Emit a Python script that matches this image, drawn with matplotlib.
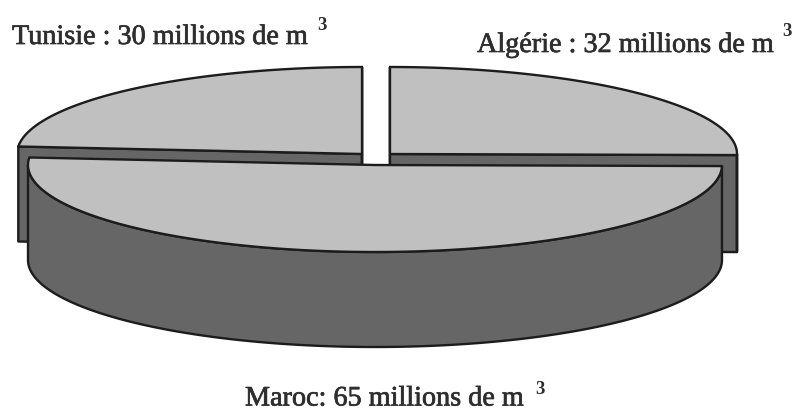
import numpy as np
import matplotlib
matplotlib.use("Agg")
import matplotlib.pyplot as plt
import matplotlib.patheffects as pe

# Annual volumes by country, in millions of cubic metres (clockwise from 12 o'clock)
countries = ["Algérie", "Maroc", "Tunisie"]
volumes = [32, 65, 30]

LIGHT = "#c0c0c0"
DARK = "#666666"
EDGE = "#1c1c1c"
INK = "#2e2e2e"
LW = 1.7
RY = 87
# Ellipse centre, horizontal radius and wall height of each exploded slice
centres = {"Algérie": (390, 154), "Maroc": (375, 165), "Tunisie": (362, 154)}
radii = {"Algérie": 347, "Maroc": 347, "Tunisie": 345}
depths = {"Algérie": 97, "Maroc": 95, "Tunisie": 95}


def arc(cx, cy, rx, a0, a1, n=200):
    t = np.radians(np.linspace(a0, a1, n))
    return cx + rx * np.cos(t), cy - RY * np.sin(t)


def shade(ax, x, y, color, z):
    ax.fill(x, y, facecolor=color, edgecolor=EDGE, linewidth=LW,
            joinstyle="round", zorder=z)


fig = plt.figure(figsize=(7.95, 4.12), dpi=100)
ax = fig.add_axes([0, 0, 1, 1])
ax.set_xlim(0, 795)
ax.set_ylim(412, 0)
ax.axis("off")

# Slice boundaries follow the shares of the total
edges = 90 - 360 * np.cumsum([0] + volumes) / sum(volumes)
layer = {"Algérie": 1, "Tunisie": 1, "Maroc": 5}

for name, a0, a1 in zip(countries, edges[:-1], edges[1:]):
    cx, cy = centres[name]
    rx = radii[name]
    depth = depths[name]
    z = layer[name]
    # Cut faces turned towards the viewer
    for ang in (a0, a1):
        px, py = arc(cx, cy, rx, ang, ang, 1)
        if name != "Maroc":
            shade(ax, [cx, px[0], px[0], cx],
                  [cy, py[0], py[0] + depth, cy + depth], DARK, z)
    # Outer rim, only the front half is visible
    lo, hi = max(a1, -180), min(a0, 0)
    if hi > lo:
        rx_, ry_ = arc(cx, cy, rx, lo, hi)
        shade(ax, np.r_[rx_, rx_[::-1]], np.r_[ry_, ry_[::-1] + depth], DARK, z + 1)
    # Top face
    tx, ty = arc(cx, cy, rx, a0, a1)
    shade(ax, np.r_[cx, tx], np.r_[cy, ty], LIGHT, z + 2)

# Country labels with a detached cubic-metre exponent
serif = "Liberation Serif"
heavier = [pe.withStroke(linewidth=0.5, foreground=INK)]
labels = [
    (f"{countries[2]} : {volumes[2]} millions de m", 12, 44, 317, 30),
    (f"{countries[0]} : {volumes[0]} millions de m", 477, 52, 782, 36),
    (f"{countries[1]}: {volumes[1]} millions de m", 245, 405.5, 535, 394),
]
for text, x, y, ex, ey in labels:
    ax.text(x, y, text, family=serif, fontsize=20.3, color=INK, ha="left", va="baseline",
            path_effects=heavier)
    ax.text(ex, ey, "3", family=serif, fontsize=13.5, fontweight="bold", color=INK,
            ha="left", va="baseline")

fig.savefig("out.png", dpi=100)
